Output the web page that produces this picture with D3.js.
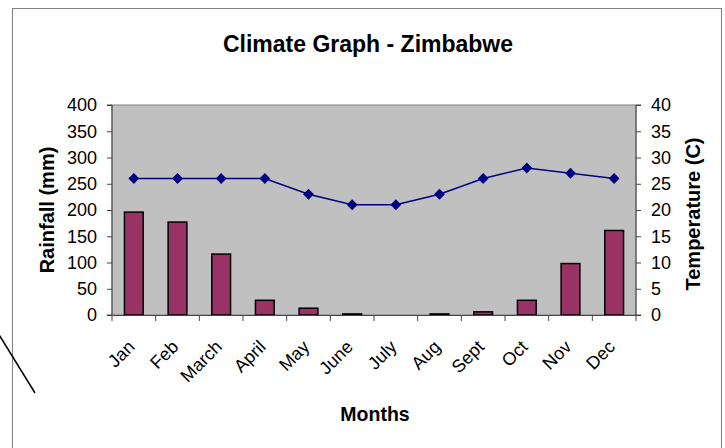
<!DOCTYPE html>
<html><head><meta charset="utf-8">
<script src="https://cdn.jsdelivr.net/npm/d3@7"></script>
<style>body{margin:0;background:#fff}svg{display:block;font-family:"Liberation Sans",Arial,sans-serif}</style>
</head><body><svg id="c" width="725" height="448"></svg>
<script>
const months = ["Jan","Feb","March","April","May","June","July","Aug","Sept","Oct","Nov","Dec"];
const rainfall = [196,177,116,28,13,2,0,2,6,28,98,161];
const temperature = [26,26,26,26,23,21,21,23,26,28,27,26];
const rainTicks = [0,50,100,150,200,250,300,350,400];
const tempTicks = [0,5,10,15,20,25,30,35,40];

const svg = d3.select("#c");
const m = {l:112, r:636, t:105, b:315};

// outer chart border
svg.append("rect").attr("x",12.5).attr("y",8.5).attr("width",709).attr("height",460)
  .attr("fill","#fff").attr("stroke","#808080").attr("stroke-width",1);
// stray diagonal line
svg.append("line").attr("x1",-2).attr("y1",333).attr("x2",35).attr("y2",393)
  .attr("stroke","#000").attr("stroke-width",1.5);

const x = d3.scaleBand().domain(months).range([m.l,m.r]).paddingInner(0).paddingOuter(0);
const yL = d3.scaleLinear().domain([0,400]).range([m.b,m.t]);
const yR = d3.scaleLinear().domain([0,40]).range([m.b,m.t]);

svg.append("rect").attr("x",m.l).attr("y",m.t).attr("width",m.r-m.l).attr("height",m.b-m.t)
  .attr("fill","#c0c0c0").attr("stroke","#808080");

const bw = x.bandwidth()*0.43;
svg.append("g").selectAll("rect").data(rainfall).join("rect")
  .attr("x",(d,i)=>x(months[i])+x.bandwidth()/2-bw/2)
  .attr("y",d=>yL(d)).attr("width",bw).attr("height",d=>m.b-yL(d))
  .attr("fill","#993366").attr("stroke","#000").attr("stroke-width",1.5);

const line = d3.line().x((d,i)=>x(months[i])+x.bandwidth()/2).y(d=>yR(d));
svg.append("path").datum(temperature).attr("d",line).attr("fill","none")
  .attr("stroke","#000080").attr("stroke-width",1.5);
svg.append("g").selectAll("path").data(temperature).join("path")
  .attr("d",d3.symbol(d3.symbolDiamond2 || d3.symbolDiamond,75))
  .attr("transform",(d,i)=>`translate(${x(months[i])+x.bandwidth()/2},${yR(d)})`)
  .attr("fill","#000080");

// axes
const axL = d3.axisLeft(yL).tickValues(rainTicks).tickSize(5).tickPadding(10);
const gL = svg.append("g").attr("transform",`translate(${m.l},0)`).call(axL);
const axR = d3.axisRight(yR).tickValues(tempTicks).tickSize(5).tickPadding(10);
const gR = svg.append("g").attr("transform",`translate(${m.r},0)`).call(axR);
const axB = d3.axisBottom(x).tickSize(0).tickFormat("");
const gB = svg.append("g").attr("transform",`translate(0,${m.b})`).call(axB);
[gL,gR,gB].forEach(g=>{g.select(".domain").attr("stroke","#444");g.selectAll("line").attr("stroke","#444");});
gL.selectAll("text").attr("font-size",18).attr("fill","#000").attr("font-family","Liberation Sans, Arial");
gR.selectAll("text").attr("font-size",18).attr("fill","#000").attr("font-family","Liberation Sans, Arial");
gL.select(".domain").attr("d",`M-5,${m.t}H0V${m.b}H-5`);
gR.select(".domain").attr("d",`M5,${m.t}H0V${m.b}H5`);

// bottom ticks at band boundaries
const bounds = months.map(mm=>x(mm)).concat([m.r]);
svg.append("g").selectAll("line").data(bounds).join("line")
  .attr("x1",d=>d).attr("x2",d=>d).attr("y1",m.b).attr("y2",m.b+6).attr("stroke","#444");

// month labels
svg.append("g").selectAll("text").data(months).join("text")
  .attr("transform",d=>`translate(${x(d)+x.bandwidth()/2+2},${m.b+33}) rotate(-45)`)
  .attr("text-anchor","end").attr("font-size",18).text(d=>d);

// titles
svg.append("text").attr("x",368).attr("y",52).attr("text-anchor","middle")
  .attr("font-size",23).attr("font-weight","bold").text("Climate Graph - Zimbabwe");
svg.append("text").attr("transform","translate(54,210) rotate(-90)").attr("text-anchor","middle")
  .attr("font-size",20).attr("font-weight","bold").text("Rainfall (mm)");
svg.append("text").attr("transform","translate(700,214) rotate(-90)").attr("text-anchor","middle")
  .attr("font-size",20).attr("font-weight","bold").text("Temperature (C)");
svg.append("text").attr("x",375).attr("y",421).attr("text-anchor","middle")
  .attr("font-size",19.5).attr("font-weight","bold").text("Months");
</script></body></html>
